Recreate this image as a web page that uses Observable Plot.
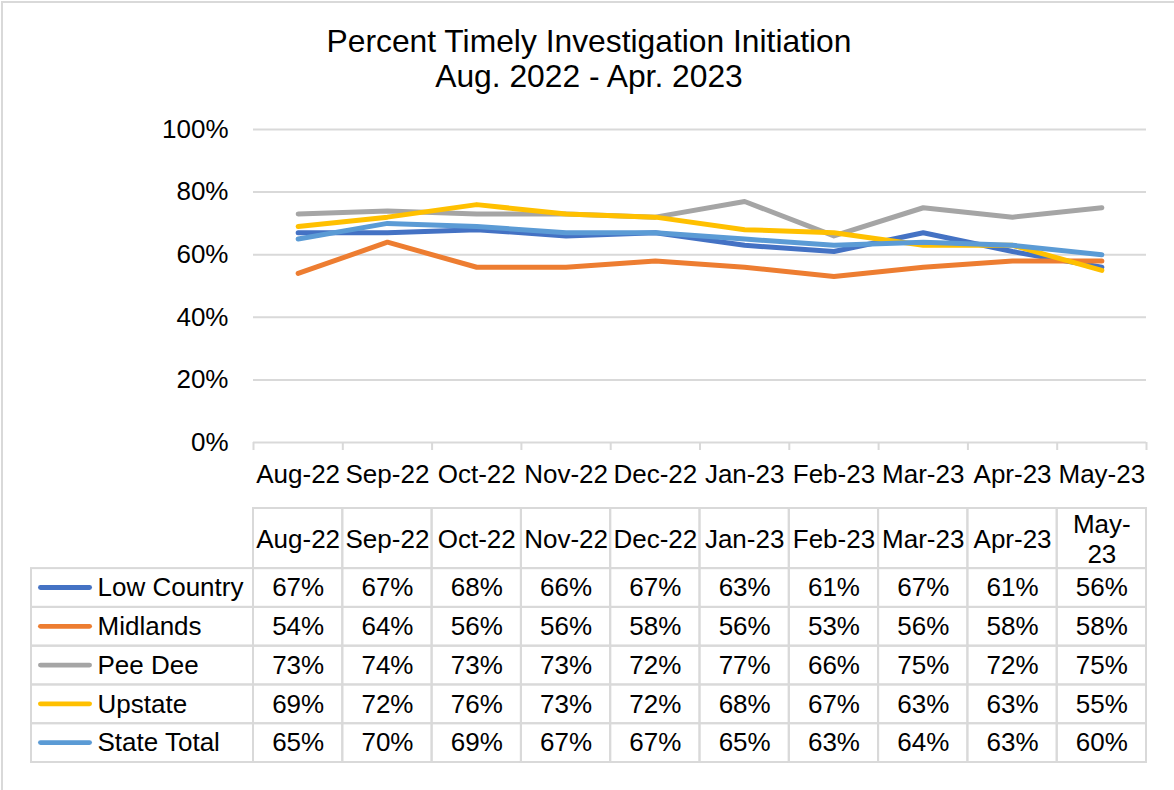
<!DOCTYPE html>
<html>
<head>
<meta charset="utf-8">
<script src="https://cdn.jsdelivr.net/npm/d3@7"></script>
<script src="https://cdn.jsdelivr.net/npm/@observablehq/plot@0.6"></script>
<style>
  body { margin: 0; background: #fff; }
  #wrap { position: relative; width: 1174px; height: 790px; overflow: hidden; font-family: "Liberation Sans", Arial, sans-serif; background: #fff; }
  #frame { position: absolute; left: 1px; top: 1px; width: 1300px; height: 900px; border: 2px solid #d9d9d9; box-sizing: border-box; }
  #title { position: absolute; left: 0; width: 1178px; top: 24px; text-align: center; font-size: 31.8px; line-height: 35px; color: #000; }
  .layer { position: absolute; left: 0; top: 0; }
  .layer svg { background: transparent !important; }
</style>
</head>
<body>
<div id="wrap">
  <div id="frame"></div>
  <div id="chart" class="layer"></div>
  <div id="table" class="layer"></div>
  <div id="title">Percent Timely Investigation Initiation<br>Aug. 2022 - Apr. 2023</div>
</div>
<script>
// ---- data ----
const months = ["Aug-22","Sep-22","Oct-22","Nov-22","Dec-22","Jan-23","Feb-23","Mar-23","Apr-23","May-23"];
const headerLabels = ["Aug-22","Sep-22","Oct-22","Nov-22","Dec-22","Jan-23","Feb-23","Mar-23","Apr-23","May-\n23"];
const series = ["Low Country","Midlands","Pee Dee","Upstate","State Total"];
const colors = ["#4472C4","#ED7D31","#A5A5A5","#FFC000","#5B9BD5"];
const lowCountry = [67,67,68,66,67,63,61,67,61,56];
const midlands   = [54,64,56,56,58,56,53,56,58,58];
const peeDee     = [73,74,73,73,72,77,66,75,72,75];
const upstate    = [69,72,76,73,72,68,67,63,63,55];
const stateTotal = [65,70,69,67,67,65,63,64,63,60];
const yTicks = [0, 0.2, 0.4, 0.6, 0.8, 1.0];

const valuesBySeries = [lowCountry, midlands, peeDee, upstate, stateTotal];
const rows = series.flatMap((s, si) => months.map((m, i) => ({series: s, idx: i, value: valuesBySeries[si][i] / 100})));

const font = '"Liberation Sans", Arial, sans-serif';
const grey = "#d9d9d9";

// ---- line chart ----
const chart = Plot.plot({
  width: 1174, height: 500,
  marginTop: 129, marginBottom: 58, marginLeft: 253, marginRight: 28,
  style: {fontFamily: font, fontSize: "26px", background: "transparent", color: "#000"},
  x: {type: "linear", domain: [0, months.length], axis: null},
  y: {domain: [0, 1], axis: null},
  color: {domain: series, range: colors},
  marks: [
    Plot.gridY(yTicks, {stroke: grey, strokeOpacity: 1, strokeWidth: 2}),
    Plot.axisY(yTicks, {tickSize: 0, tickPadding: 25, tickFormat: d3.format(".0%"), fontSize: 26, fill: "#000", label: null}),
    Plot.axisX(d3.range(months.length + 1), {tickSize: 8, tickFormat: () => "", stroke: grey, strokeWidth: 2, strokeOpacity: 1, label: null}),
    Plot.axisX(d3.range(months.length).map(i => i + 0.5), {tickSize: 0, tickPadding: 22, tickFormat: v => months[Math.floor(v)], fontSize: 26, fill: "#000", label: null}),
    Plot.line(rows, {x: d => d.idx + 0.5, y: "value", z: "series", stroke: "series", strokeWidth: 5, strokeLinecap: "round", strokeLinejoin: "round"})
  ]
});
document.getElementById("chart").append(chart);

// ---- data table ----
const legendCols = (253 - 31) / ((1146 - 253) / months.length); // legend column width in month-column units
const headerH = 1.55; // header row height in data-row units
const cells = series.flatMap((s, si) => months.map((m, i) => ({series: s, si, i, v: valuesBySeries[si][i]})));

const table = Plot.plot({
  width: 1174, height: 790,
  marginTop: 508, marginBottom: 28, marginLeft: 31, marginRight: 28,
  style: {fontFamily: font, fontSize: "26px", background: "transparent", color: "#000"},
  x: {type: "linear", domain: [-legendCols, months.length], axis: null},
  y: {type: "linear", domain: [0, headerH + series.length], reverse: true, axis: null},
  color: {domain: series, range: colors},
  marks: [
    // header cells
    Plot.rect(headerLabels, {x1: (d, i) => i, x2: (d, i) => i + 1, y1: 0, y2: headerH, fill: "none", stroke: grey, strokeWidth: 2}),
    // legend cells
    Plot.rect(series, {x1: -legendCols, x2: 0, y1: (d, i) => headerH + i, y2: (d, i) => headerH + i + 1, fill: "none", stroke: grey, strokeWidth: 2}),
    // value cells
    Plot.rect(cells, {x1: d => d.i, x2: d => d.i + 1, y1: d => headerH + d.si, y2: d => headerH + d.si + 1, fill: "none", stroke: grey, strokeWidth: 2}),
    // header text
    Plot.text(headerLabels, {x: (d, i) => i + 0.5, y: headerH / 2, text: d => d, fontSize: 26, fill: "#000", lineHeight: 1.15}),
    // legend swatches
    Plot.rect(series, {x1: -legendCols, x2: 0, y1: (d, i) => headerH + i, y2: (d, i) => headerH + i + 1, fill: d => d, insetLeft: 7, insetRight: 161, insetTop: 17, insetBottom: 17, rx: 2.5}),
    // legend labels
    Plot.text(series, {x: -legendCols, y: (d, i) => headerH + i + 0.5, text: d => d, textAnchor: "start", dx: 66, fontSize: 26, fill: "#000"}),
    // values
    Plot.text(cells, {x: d => d.i + 0.5, y: d => headerH + d.si + 0.5, text: d => d.v + "%", fontSize: 26, fill: "#000"})
  ]
});
document.getElementById("table").append(table);
</script>
</body>
</html>
